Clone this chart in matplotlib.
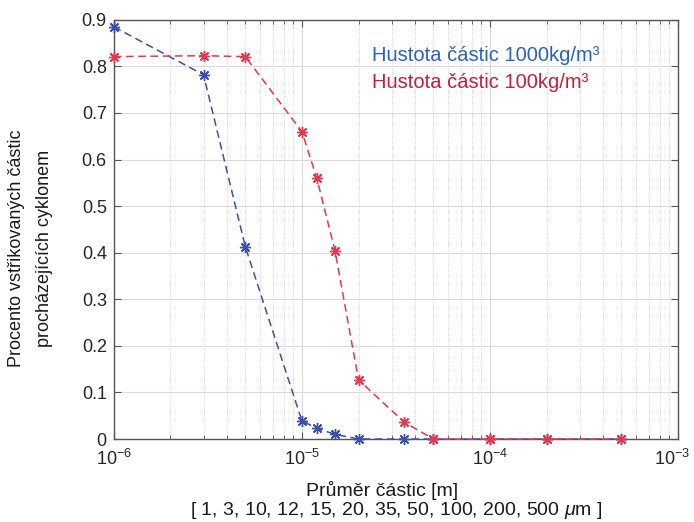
import numpy as np
import matplotlib
matplotlib.use('Agg')
import matplotlib.pyplot as plt
from matplotlib.transforms import ScaledTranslation

plt.rcParams['font.family'] = ['Liberation Sans', 'DejaVu Sans']
plt.rcParams['mathtext.fontset'] = 'custom'
plt.rcParams['mathtext.rm'] = 'Liberation Sans'
plt.rcParams['mathtext.it'] = 'Liberation Sans:italic'
plt.rcParams['mathtext.sf'] = 'Liberation Sans'

# particle diameters [m]
diam_blue = [1e-6, 3e-6, 5e-6, 1e-5, 1.2e-5, 1.5e-5, 2e-5, 3.5e-5, 5e-5, 1e-4, 2e-4, 5e-4]
frac_blue = [0.885, 0.782, 0.413, 0.039, 0.023, 0.010, 0.0, 0.0, 0.0, 0.0, 0.0, 0.0]

diam_red = [1e-6, 3e-6, 5e-6, 1e-5, 1.2e-5, 1.5e-5, 2e-5, 3.5e-5, 5e-5, 1e-4, 2e-4, 5e-4]
frac_red = [0.821, 0.823, 0.821, 0.660, 0.560, 0.404, 0.127, 0.036, 0.0, 0.0, 0.0, 0.0]

xticks = [1e-6, 1e-5, 1e-4, 1e-3]
xtick_labels = ['$10^{-6}$', '$10^{-5}$', '$10^{-4}$', '$10^{-3}$']
yticks = [0, 0.1, 0.2, 0.3, 0.4, 0.5, 0.6, 0.7, 0.8, 0.9]
ytick_labels = ['0', '0.1', '0.2', '0.3', '0.4', '0.5', '0.6', '0.7', '0.8', '0.9']

blue = '#3b4fae'
red = '#e8364e'
asterisk = (8, 2, 0)

fig = plt.figure(figsize=(6.94, 5.22), dpi=100)
ax = fig.add_axes([0.164, 0.159, 0.813, 0.803])

ax.plot(diam_blue, frac_blue, color=blue, linewidth=1.1, marker=asterisk, markersize=8,
        markeredgewidth=1.0, dashes=(5, 3), clip_on=False, zorder=3)
ax.plot(diam_red, frac_red, color=red, linewidth=1.1, marker=asterisk, markersize=8,
        markeredgewidth=1.0, dashes=(5, 3), clip_on=False, zorder=4)

ax.set_xscale('log')
ax.set_xlim(1e-6, 1e-3)
ax.set_ylim(0, 0.9)
ax.set_xticks(xticks)
ax.set_xticklabels(xtick_labels)
ax.set_yticks(yticks)
ax.set_yticklabels(ytick_labels)

ax.grid(True, which='major', color='#dadada', linewidth=0.8, linestyle='-')
ax.grid(True, which='minor', axis='x', color='#c8c8c8', linewidth=0.6, linestyle=':')
ax.set_axisbelow(True)

ax.tick_params(which='both', direction='in', top=True, right=True, labelsize=13,
               color='#555555', labelcolor='#262626')
ax.tick_params(which='major', length=5)
ax.tick_params(which='minor', length=3)
ax.tick_params(axis='x', pad=7)
ax.tick_params(axis='y', pad=5)
for s in ax.spines.values():
    s.set_color('#555555')
    s.set_linewidth(1.0)

# last x tick label sits at the figure edge, nudge it slightly left
last = ax.get_xticklabels()[-1]
last.set_transform(last.get_transform() + ScaledTranslation(-4 / 72, 0, fig.dpi_scale_trans))

fig.text(0.551, 0.061, 'Průměr částic [m]', ha='center', va='center', fontsize=14,
         color='#1a1a1a')
fig.text(0.571, 0.022, '[ 1, 3, 10, 12, 15, 20, 35, 50, 100, 200, 500 $\\mu$m ]',
         ha='center', va='center', fontsize=14, color='#1a1a1a')
fig.text(0.044, 0.525, 'Procento vstřikovaných částic\nprocházejících cyklonem',
         rotation=90, ha='center', va='center', fontsize=13, linespacing=1.85,
         color='#1a1a1a')

ax.text(0.457, 0.916, 'Hustota částic 1000kg/m³', transform=ax.transAxes,
        color='#2a62c4', fontsize=14.5, va='center')
ax.text(0.457, 0.850, 'Hustota částic 100kg/m³', transform=ax.transAxes,
        color='#c81e3c', fontsize=14.5, va='center')

fig.savefig('out.png', dpi=100)
